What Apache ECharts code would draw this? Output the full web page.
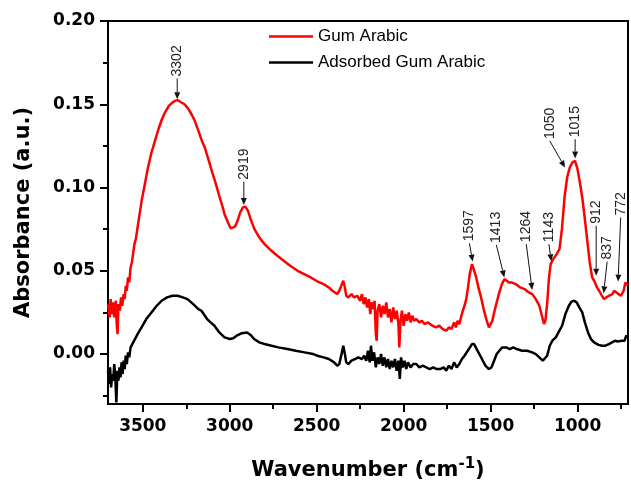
<!DOCTYPE html>
<html>
<head>
<meta charset="utf-8">
<script src="https://cdn.jsdelivr.net/npm/echarts@6/dist/echarts.min.js"></script>
<style>html,body{margin:0;padding:0;background:#fff}#c{width:631px;height:487px}</style>
</head>
<body>
<div id="c"></div>
<script>
// ---- Data (wavenumber, absorbance) ----
var gumArabicWn = [3700,3690,3685,3678,3672,3665,3660,3655,3650,3645,3640,3632,3625,3618,3610,3604,3598,3592,3585,3578,3570,3563,3556,3548,3540,3530,3520,3505,3490,3470,3450,3433,3410,3390,3375,3350,3330,3315,3300,3285,3260,3240,3220,3203,3180,3160,3145,3120,3100,3088,3060,3040,3030,3010,2995,2985,2970,2955,2940,2925,2910,2895,2880,2858,2830,2800,2760,2726,2690,2652,2610,2572,2535,2497,2460,2430,2410,2395,2382,2370,2355,2347,2338,2330,2318,2300,2285,2267,2250,2240,2230,2220,2210,2200,2192,2185,2175,2167,2160,2155,2150,2140,2130,2120,2110,2100,2090,2080,2070,2060,2050,2040,2030,2025,2018,2010,2000,1990,1980,1970,1960,1950,1940,1927,1910,1895,1880,1860,1835,1815,1795,1775,1755,1740,1725,1710,1700,1690,1680,1670,1660,1650,1640,1630,1620,1607,1597,1585,1570,1555,1540,1525,1510,1500,1490,1475,1460,1450,1435,1420,1410,1395,1380,1355,1330,1305,1280,1260,1240,1220,1205,1193,1185,1175,1165,1155,1140,1120,1104,1090,1075,1060,1045,1030,1015,1000,985,973,958,944,930,916,900,888,876,860,848,835,820,800,790,779,765,750,735,725,716,710];
var gumArabicAbs = [0.030,0.022,0.033,0.024,0.031,0.022,0.028,0.032,0.018,0.012,0.030,0.026,0.034,0.029,0.036,0.033,0.041,0.038,0.046,0.043,0.052,0.055,0.060,0.066,0.069,0.076,0.083,0.093,0.101,0.112,0.121,0.127,0.135,0.141,0.1445,0.149,0.151,0.152,0.1525,0.1515,0.150,0.1475,0.144,0.1405,0.134,0.128,0.1245,0.116,0.109,0.105,0.095,0.088,0.084,0.079,0.0755,0.075,0.0765,0.080,0.085,0.088,0.0885,0.086,0.081,0.075,0.070,0.066,0.062,0.059,0.056,0.053,0.050,0.048,0.046,0.0437,0.042,0.040,0.038,0.037,0.036,0.038,0.042,0.044,0.040,0.035,0.034,0.036,0.034,0.035,0.032,0.036,0.030,0.034,0.028,0.033,0.024,0.031,0.027,0.032,0.012,0.008,0.026,0.030,0.022,0.029,0.024,0.031,0.022,0.027,0.019,0.028,0.021,0.026,0.018,0.004,0.020,0.026,0.017,0.024,0.020,0.025,0.019,0.023,0.020,0.021,0.019,0.020,0.018,0.019,0.017,0.016,0.017,0.015,0.014,0.016,0.015,0.019,0.016,0.020,0.018,0.022,0.026,0.029,0.033,0.040,0.048,0.054,0.053,0.047,0.040,0.034,0.027,0.021,0.016,0.016,0.020,0.027,0.033,0.037,0.042,0.045,0.044,0.043,0.043,0.042,0.040,0.039,0.037,0.036,0.033,0.029,0.023,0.018,0.020,0.030,0.045,0.054,0.057,0.060,0.063,0.075,0.094,0.106,0.112,0.115,0.116,0.111,0.102,0.094,0.081,0.068,0.055,0.046,0.043,0.040,0.038,0.035,0.033,0.034,0.035,0.036,0.038,0.039,0.036,0.035,0.038,0.043,0.044,0.041];

var adsorbedWn = [3700,3694,3688,3682,3676,3670,3664,3658,3652,3646,3640,3634,3628,3622,3616,3610,3604,3598,3592,3585,3578,3570,3565,3555,3545,3530,3507,3480,3450,3420,3392,3360,3330,3300,3270,3243,3210,3180,3163,3130,3110,3088,3060,3030,3000,2980,2960,2930,2900,2880,2860,2830,2800,2760,2720,2669,2620,2570,2520,2497,2460,2430,2400,2382,2370,2355,2347,2338,2330,2318,2300,2280,2260,2240,2227,2215,2205,2195,2188,2180,2170,2160,2150,2140,2130,2120,2110,2100,2090,2080,2070,2060,2050,2040,2030,2022,2015,2005,1995,1985,1975,1960,1945,1927,1910,1890,1870,1850,1830,1810,1790,1770,1755,1740,1725,1710,1695,1680,1665,1650,1641,1625,1607,1595,1580,1565,1550,1530,1510,1495,1480,1465,1450,1433,1410,1390,1370,1350,1320,1290,1261,1240,1220,1200,1190,1175,1160,1145,1125,1110,1089,1070,1050,1035,1020,1005,990,973,958,940,923,905,880,860,840,820,802,785,770,745,730,720,710];
var adsorbedAbs = [-0.010,-0.018,-0.008,-0.020,-0.012,-0.016,-0.006,-0.014,-0.029,-0.010,-0.016,-0.008,-0.014,-0.005,-0.012,-0.004,-0.009,-0.001,-0.006,0.001,-0.002,0.004,0.003,0.007,0.009,0.012,0.016,0.021,0.025,0.029,0.032,0.034,0.035,0.035,0.034,0.033,0.030,0.027,0.026,0.021,0.019,0.017,0.013,0.010,0.009,0.0095,0.011,0.0125,0.013,0.0115,0.009,0.007,0.006,0.005,0.004,0.003,0.002,0.001,0.000,-0.001,-0.002,-0.003,-0.005,-0.007,-0.006,0.001,0.005,0.000,-0.005,-0.006,-0.004,-0.003,-0.002,-0.003,-0.001,-0.004,0.002,-0.005,0.005,-0.004,0.001,-0.008,-0.002,-0.006,0.000,-0.007,-0.002,-0.008,-0.003,-0.009,-0.004,-0.008,-0.003,-0.010,-0.004,-0.015,-0.002,-0.008,-0.004,-0.009,-0.005,-0.008,-0.006,-0.006,-0.008,-0.007,-0.008,-0.009,-0.008,-0.009,-0.009,-0.008,-0.010,-0.007,-0.009,-0.005,-0.008,-0.006,-0.003,-0.001,0.000,0.003,0.006,0.006,0.003,0.000,-0.003,-0.007,-0.009,-0.008,-0.004,0.000,0.002,0.004,0.004,0.003,0.004,0.003,0.002,0.002,0.001,0.000,-0.002,-0.004,-0.004,-0.001,0.005,0.008,0.010,0.013,0.017,0.024,0.029,0.0315,0.032,0.031,0.028,0.025,0.019,0.013,0.009,0.007,0.0055,0.005,0.005,0.006,0.007,0.008,0.0075,0.008,0.008,0.011,0.010];

// ---- Axis ticks ----
var xMajorTicks = [3500,3000,2500,2000,1500,1000];
var xMinorTicks = [3250,2750,2250,1750,1250,750];
var yMajorTicks = [0,0.05,0.10,0.15,0.20];
var yMinorTicks = [-0.025,0.025,0.075,0.125,0.175];

// ---- Peak annotations: label, text anchor (wn, abs), arrow tip (wn, abs) ----
var annoLabels = ['3302','2919','1597','1413','1264','1143','1050','1015','912','837','772'];
var annoTextWn = [3302,2919,1622,1467,1295,1165,1160,1014,893,830,752];
var annoTextAbs = [0.1655,0.1035,0.0665,0.0655,0.066,0.066,0.128,0.129,0.077,0.0555,0.082];
var annoTipWn = [3302,2919,1603,1421,1261,1151,1072,1014,893,850,767];
var annoTipAbs = [0.153,0.0895,0.0555,0.046,0.0385,0.0557,0.112,0.1175,0.047,0.0365,0.0435];

function pairs(a,b){return a.map(function(v,i){return [v,b[i]];});}
var annoData = annoLabels.map(function(l,i){return [annoTextWn[i],annoTextAbs[i],annoTipWn[i],annoTipAbs[i],i];});

var chart = echarts.init(document.getElementById('c'), null, {renderer:'canvas'});

var option = {
  animation:false,
  backgroundColor:'#fff',
  grid:{left:108,right:3,top:21,bottom:83,show:true,borderColor:'#000',borderWidth:2,backgroundColor:'transparent'},
  legend:{
    left:264, top:23, orient:'vertical', itemWidth:44, itemHeight:16, itemGap:9,
    textStyle:{fontFamily:'Liberation Sans', fontSize:17, color:'#000'},
    data:[
      {name:'Gum Arabic', icon:'path://M0,0 L44,0 L44,2.5 L0,2.5 Z'},
      {name:'Adsorbed Gum Arabic', icon:'path://M0,0 L44,0 L44,2.5 L0,2.5 Z'}
    ]
  },
  xAxis:[{
    type:'value', inverse:true, min:710, max:3700,
    name:'{a|Wavenumber (cm}{s|-1}{a|)}', nameLocation:'middle', nameGap:53,
    nameTextStyle:{rich:{
      a:{fontFamily:'DejaVu Sans',fontWeight:'bold',fontSize:21,color:'#000'},
      s:{fontFamily:'DejaVu Sans',fontWeight:'bold',fontSize:15,color:'#000',padding:[0,0,12,0]}
    }},
    axisLine:{show:true,onZero:false,lineStyle:{color:'#000',width:2}},
    axisTick:{show:true,inside:false,length:8,lineStyle:{color:'#000',width:2},customValues:xMajorTicks},
    axisLabel:{show:true,margin:14,customValues:xMajorTicks,formatter:function(v){return String(v);}, fontFamily:'DejaVu Sans',fontWeight:'bold',fontSize:17,color:'#000'},
    splitLine:{show:false}
  },{
    type:'value', inverse:true, min:710, max:3700, position:'bottom',
    axisLine:{show:false,onZero:false},
    axisTick:{show:true,inside:false,length:5,lineStyle:{color:'#000',width:2},customValues:xMinorTicks},
    axisLabel:{show:false},
    splitLine:{show:false}
  }],
  yAxis:[{
    type:'value', min:-0.03, max:0.20,
    name:'Absorbance (a.u.)', nameLocation:'middle', nameGap:74,
    nameTextStyle:{fontFamily:'DejaVu Sans',fontWeight:'bold',fontSize:21,color:'#000'},
    axisLine:{show:true,onZero:false,lineStyle:{color:'#000',width:2}},
    axisTick:{show:true,inside:false,length:8,lineStyle:{color:'#000',width:2},customValues:yMajorTicks},
    axisLabel:{show:true,margin:13,customValues:yMajorTicks,formatter:function(v){return v.toFixed(2);}, fontFamily:'DejaVu Sans',fontWeight:'bold',fontSize:17,color:'#000'},
    splitLine:{show:false}
  },{
    type:'value', min:-0.03, max:0.20, position:'left',
    axisLine:{show:false,onZero:false},
    axisTick:{show:true,inside:false,length:5,lineStyle:{color:'#000',width:2},customValues:yMinorTicks},
    axisLabel:{show:false},
    splitLine:{show:false}
  }],
  series:[
    {name:'Gum Arabic',type:'line',data:pairs(gumArabicWn,gumArabicAbs),showSymbol:false,symbol:'none',
     lineStyle:{color:'#ff0000',width:2.5},itemStyle:{color:'#ff0000'},z:3},
    {name:'Adsorbed Gum Arabic',type:'line',data:pairs(adsorbedWn,adsorbedAbs),showSymbol:false,symbol:'none',
     lineStyle:{color:'#000000',width:2.5},itemStyle:{color:'#000000'},z:3},
    {name:'annotations',type:'custom',clip:false,z:5,silent:true,
     encode:{x:0,y:1},
     data:annoData,
     renderItem:function(params,api){
       var s = api.coord([api.value(0),api.value(1)]);
       var t = api.coord([api.value(2),api.value(3)]);
       var idx = api.value(4);
       var dx=t[0]-s[0], dy=t[1]-s[1];
       var len=Math.sqrt(dx*dx+dy*dy)||1;
       var ux=dx/len, uy=dy/len;
       var hl=7, hw=3;
       var bx=t[0]-ux*hl, by=t[1]-uy*hl;
       return {type:'group',children:[
         {type:'line',shape:{x1:s[0],y1:s[1],x2:bx,y2:by},style:{stroke:'#111',lineWidth:1}},
         {type:'polygon',shape:{points:[[t[0],t[1]],[bx-uy*hw,by+ux*hw],[bx+uy*hw,by-ux*hw]]},style:{fill:'#111'}},
         {type:'text',x:s[0],y:s[1]-2,rotation:Math.PI/2,
          style:{text:annoLabels[idx],fontFamily:'Liberation Sans',fontSize:14,fill:'#222',align:'left',verticalAlign:'middle'}}
       ]};
     }
    }
  ]
};
chart.setOption(option);
</script>
</body>
</html>
